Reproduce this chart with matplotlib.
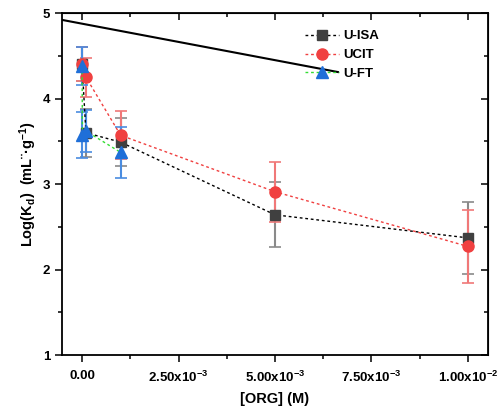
import matplotlib
matplotlib.use('Agg')
import matplotlib.pyplot as plt
from matplotlib.ticker import MultipleLocator, FixedLocator

plt.rcParams['font.family'] = ['Liberation Sans', 'DejaVu Sans']
plt.rcParams['font.weight'] = 'bold'
plt.rcParams['mathtext.fontset'] = 'custom'
plt.rcParams['mathtext.rm'] = 'Liberation Sans:bold'
plt.rcParams['mathtext.bf'] = 'Liberation Sans:bold'
plt.rcParams['mathtext.default'] = 'bf'

# data
isa_x = [0, 1e-4, 1e-3, 5e-3, 1e-2]
isa_y = [4.40, 3.60, 3.49, 2.64, 2.37]
isa_e = [0.20, 0.28, 0.28, 0.38, 0.42]

ucit_x = [0, 1e-4, 1e-3, 5e-3, 1e-2]
ucit_y = [4.40, 4.25, 3.57, 2.91, 2.27]
ucit_e = [0.20, 0.23, 0.28, 0.35, 0.43]

ft_x = [0, 1e-5, 1e-4, 1e-3]
ft_y = [4.38, 3.57, 3.62, 3.37]
ft_e = [0.22, 0.27, 0.25, 0.30]

# stray straight line across the top
line_x = [-5.2e-4, 6.63e-3]
line_y = [4.92, 4.31]

xticks = [0, 2.5e-3, 5e-3, 7.5e-3, 1e-2]
xticklabels = ['0.00', r'2.50x10$^{-3}$', r'5.00x10$^{-3}$',
               r'7.50x10$^{-3}$', r'1.00x10$^{-2}$']

fig = plt.figure(figsize=(5, 4.13), dpi=100)
ax = fig.add_axes([0.124, 0.1404, 0.852, 0.828])

ax.plot(line_x, line_y, color='black', lw=1.5, zorder=1)

series = [
    (isa_x, isa_y, isa_e, '#404040', '#8a8a8a', 's', 7, 'U-ISA', 'black'),
    (ucit_x, ucit_y, ucit_e, '#f04040', '#f07878', 'o', 8, 'UCIT', '#f04040'),
    (ft_x, ft_y, ft_e, '#1f6fd8', '#4a8ce0', '^', 9, 'U-FT', '#33dd33'),
]
handles = []
for x, y, e, mc, ec, m, ms, lab, lc in series:
    ax.errorbar(x, y, yerr=e, fmt='none', ecolor=ec, elinewidth=1.5,
                capsize=4, capthick=1.2, zorder=2)
    h, = ax.plot(x, y, linestyle=(0, (2, 2)), lw=1, color=lc,
                 marker=m, markersize=ms, markerfacecolor=mc,
                 markeredgecolor=mc, label=lab, zorder=3)
    handles.append(h)

ax.set_xlim(-5.2e-4, 1.052e-2)
ax.set_ylim(1, 5)
ax.set_xticks(xticks)
ax.set_xticklabels(xticklabels)
ax.xaxis.set_minor_locator(FixedLocator([1.25e-3, 3.75e-3, 6.25e-3, 8.75e-3]))
ax.yaxis.set_major_locator(MultipleLocator(1))
ax.yaxis.set_minor_locator(MultipleLocator(0.5))

for s in ax.spines.values():
    s.set_linewidth(1.3)
ax.tick_params(which='both', direction='out', top=False, right=False,
               labelsize=9.5, width=1.1)
ax.tick_params(which='major', length=5)
ax.tick_params(which='minor', length=3)
ax.tick_params(axis='x', which='major', pad=6)
ax2 = ax.secondary_xaxis('top')
ax2.set_xticks(xticks)
ax2.xaxis.set_minor_locator(FixedLocator([1.25e-3, 3.75e-3, 6.25e-3, 8.75e-3]))
ax2.tick_params(which='both', direction='in', labeltop=False, width=1.1)
ax2.tick_params(which='major', length=5)
ax2.tick_params(which='minor', length=3)
ax3 = ax.secondary_yaxis('right')
ax3.yaxis.set_major_locator(MultipleLocator(1))
ax3.yaxis.set_minor_locator(MultipleLocator(0.5))
ax3.tick_params(which='both', direction='in', labelright=False, width=1.1)
ax3.tick_params(which='major', length=5)
ax3.tick_params(which='minor', length=3)

ax.set_xlabel('[ORG] (M)', fontsize=10.5, fontweight='bold', labelpad=5)
ax.set_ylabel('Log(K$_{d}$)  (mL\u00a8\u00b7g$^{-1}$)', fontsize=10.5,
              fontweight='bold', labelpad=3)

ax.legend(handles=handles, loc='upper left', bbox_to_anchor=(0.542, 0.985),
          frameon=False, fontsize=9.5, handlelength=2.6, handletextpad=0.3,
          labelspacing=0.5, numpoints=1)

fig.savefig('out.png', dpi=100)
